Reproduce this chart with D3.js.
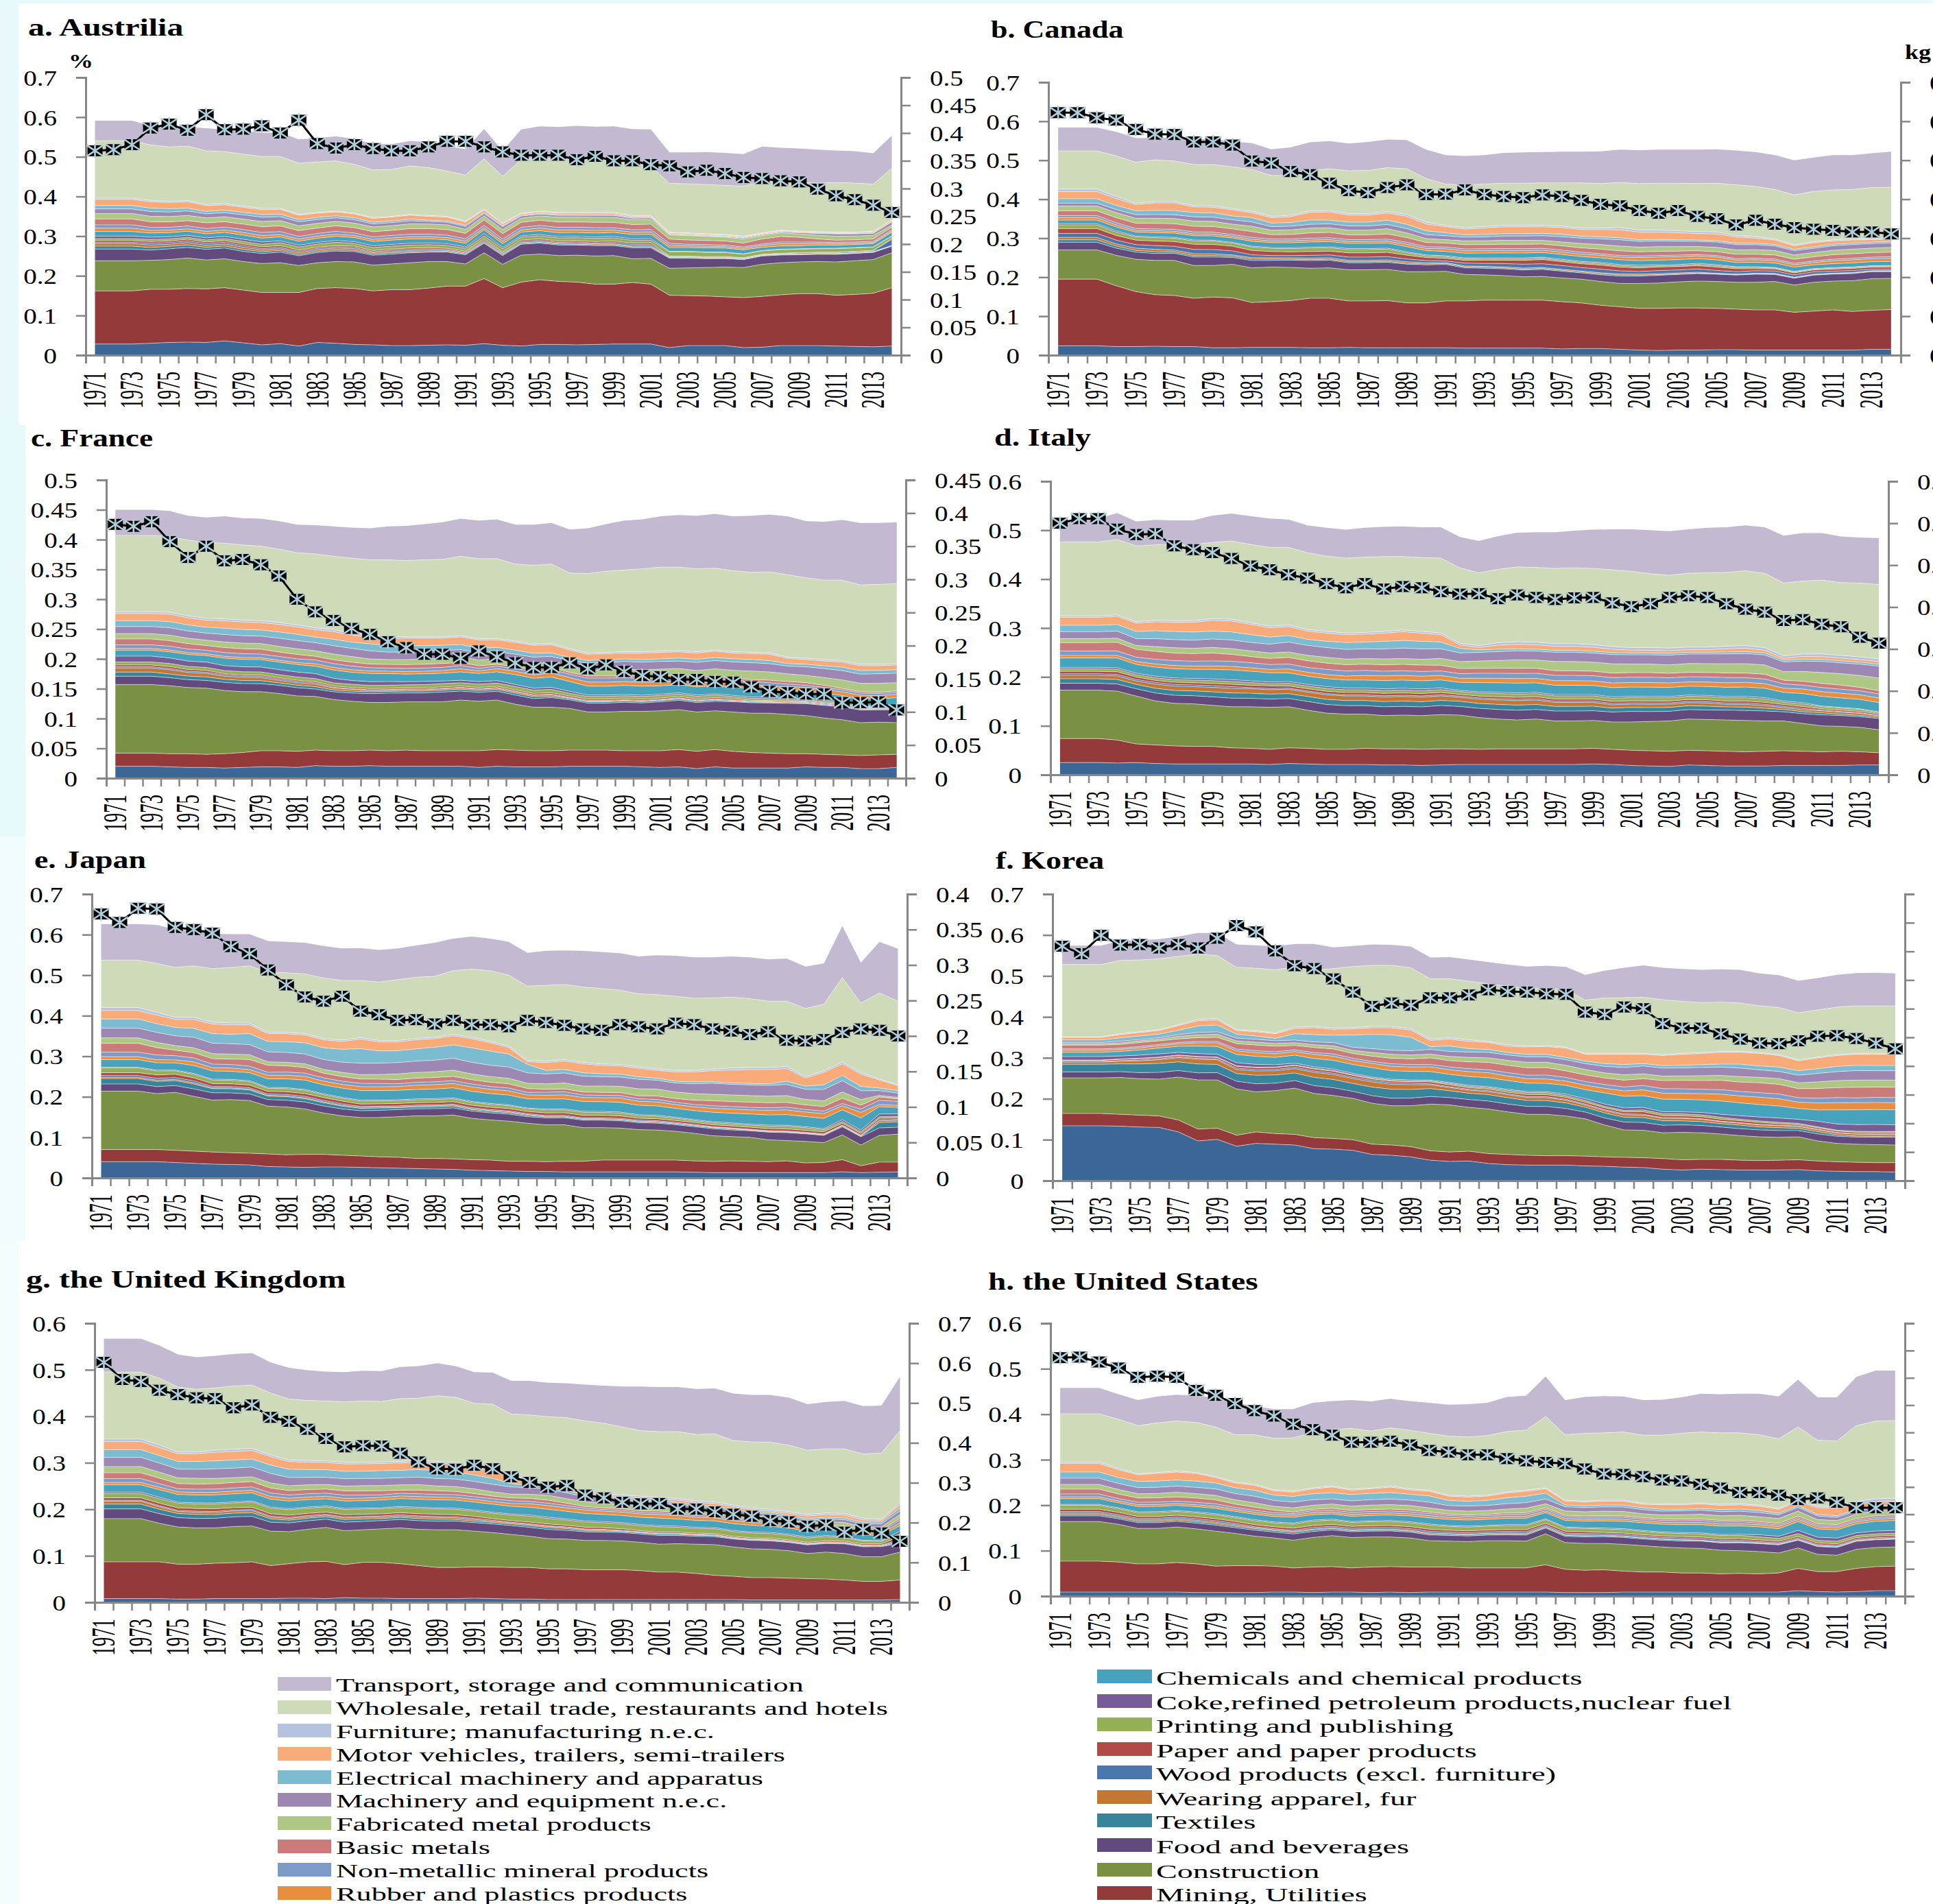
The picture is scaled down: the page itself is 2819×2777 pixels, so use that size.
<!DOCTYPE html>
<html><head><meta charset="utf-8"><script src="https://cdnjs.cloudflare.com/ajax/libs/d3/7.8.5/d3.min.js"></script>
<style>html,body{margin:0;padding:0;background:#fff;overflow:hidden}svg{display:block}text{font-family:"Liberation Serif",serif;fill:#000}</style></head><body>
<script>
const years=d3.range(1971,2015);
const layerNames=["Agriculture","Mining, Utilities","Construction","Food and beverages","Textiles","Wearing apparel, fur","Wood products (excl. furniture)","Paper and paper products","Printing and publishing","Coke,refined petroleum products,nuclear fuel","Chemicals and chemical products","Rubber and plastics products","Non-metallic mineral products","Basic metals","Fabricated metal products","Machinery and equipment n.e.c.","Electrical machinery and apparatus","Motor vehicles, trailers, semi-trailers","Furniture; manufacturing n.e.c.","Wholesale, retail trade, restaurants and hotels","Transport, storage and communication"];
const layerColors=["#3c6696","#953a3a","#7a9143","#624b7c","#38849b","#c47732","#4a76ad","#b04a48","#94b054","#775d97","#47a2bb","#e98d3e","#7c9bc7","#c97c7a","#afc785","#9c88b2","#7dbbd0","#f8ab78","#b5c3de","#cfdbb8","#c3b9d0"];
const legendLeft=[20,19,18,17,16,15,14,13,12,11];
const legendRight=[10,9,8,7,6,5,4,3,2,1];

const aAgri=[28,28,28,30,32,33,32,36,31,26,29,23,32,30,27,26,24,24,25,26,25,29,25,23,27,27,26,27,28,28,28,19,24,24,24,19,20,24,24,24,23,22,21,23];
const aMining=[162,162,162,166,166,168,167,170,164,158,158,158,168,170,168,162,165,165,169,174,174,193,170,184,190,186,184,179,179,183,179,151,150,149,147,145,148,152,155,155,151,153,156,170];
const aConstr=[238,238,238,239,241,245,240,243,236,231,233,226,233,236,235,227,230,233,236,236,230,258,229,252,255,251,252,250,251,243,244,219,220,221,222,221,229,233,235,236,235,238,241,258];
const aMfg=[396,396,396,390,388,390,380,382,376,370,370,355,360,363,358,347,350,355,352,350,338,368,333,358,363,360,360,360,360,352,352,310,308,306,304,300,308,315,313,311,310,310,312,341];
const aWholesale=[540,541,541,530,525,527,515,513,507,501,501,484,487,490,481,467,468,477,473,464,454,495,451,493,496,494,495,497,490,480,477,433,432,430,428,426,437,436,436,434,435,434,431,471];
const aTransport=[591,591,591,578,572,576,572,568,565,561,561,544,547,552,545,532,532,540,537,526,520,570,515,569,577,575,578,576,577,570,569,511,511,512,510,507,526,523,521,518,516,514,509,553];
const aLine=[368,370,379,409,416,405,433,406,407,413,400,423,381,373,379,372,368,368,375,385,385,375,366,360,360,360,352,358,350,350,343,341,330,333,327,320,318,314,312,299,287,280,270,257];
const aThin=[
[28,28,28,24,26,26,26,26,24,23,24,22,24,25,25,23,23,23,22,22,20,24,19,26,25,24,23,23,22,23,22,19,18,17,17,16,18,17,17,17,17,17,18,15],
[7,7,7,6,6,6,5,5,5,4,4,3,3,3,3,3,3,2,2,2,2,2,2,2,2,2,2,2,2,2,2,1,1,1,1,1,1,1,1,1,1,1,1,1],
[6,6,6,6,5,6,5,5,5,4,4,4,4,4,4,3,3,3,3,2,2,3,2,2,2,2,2,2,2,2,2,1,1,1,1,1,1,1,1,1,1,1,1,1],
[3,3,3,4,4,4,4,4,4,3,3,3,3,3,3,2,3,3,3,2,2,3,2,3,3,2,3,2,3,3,3,1,1,1,1,1,1,1,2,2,2,2,2,14],
[4,4,4,4,4,4,4,4,4,4,4,3,3,3,3,3,3,3,3,3,2,3,2,3,3,3,3,3,3,3,3,1,1,1,1,1,1,1,1,1,1,1,1,2],
[5,5,5,5,5,5,5,5,6,6,7,7,7,8,7,7,7,7,7,7,6,8,7,7,7,7,7,7,7,6,6,8,8,8,8,7,7,8,8,8,8,8,8,5],
[6,6,6,5,5,5,5,5,5,5,4,4,4,4,4,4,4,4,4,4,3,5,3,3,3,3,3,3,3,3,3,1,1,1,1,1,1,1,1,1,1,1,1,1],
[11,11,11,10,10,10,10,10,10,9,9,9,10,10,10,10,10,10,10,9,8,10,8,9,9,9,9,9,9,9,9,7,7,8,8,8,7,7,7,8,7,7,8,8],
[8,8,8,6,6,6,6,6,6,6,5,5,5,5,5,5,5,5,5,5,5,5,5,5,6,6,6,6,5,5,5,4,3,3,3,3,4,5,5,4,3,3,3,3],
[8,8,8,7,7,7,7,7,7,7,7,6,6,7,6,6,6,6,6,6,5,6,5,6,6,6,6,6,5,5,5,4,3,3,3,3,3,4,4,3,3,3,3,3],
[14,14,14,13,13,13,14,13,13,13,13,13,13,13,13,12,12,13,13,13,12,14,12,12,12,12,12,12,12,11,11,8,8,8,8,8,11,12,11,7,5,5,6,6],
[13,13,13,13,13,13,12,12,12,12,12,11,11,11,11,11,11,11,11,11,9,10,9,10,10,11,11,11,11,10,10,8,8,8,8,8,7,8,8,9,9,9,9,5],
[11,11,11,11,11,11,10,10,10,10,9,9,9,8,8,7,7,7,6,6,6,6,6,5,4,4,4,4,4,3,3,1,1,1,1,2,2,2,3,4,5,5,5,7],
[8,8,8,8,8,7,6,6,6,6,6,5,5,5,5,4,4,4,3,3,3,3,2,2,2,2,2,2,2,2,1,1,1,1,1,1,1,1,1,1,1,1,1,1],
[15,15,15,15,15,16,14,13,12,11,11,10,10,9,9,9,9,9,9,9,7,6,4,3,3,3,3,3,3,2,2,2,2,2,2,2,2,2,2,2,2,2,3,3],
[3,3,3,3,3,3,3,3,3,3,2,2,2,2,2,2,2,2,2,2,2,2,2,2,2,2,2,2,2,2,2,1,1,1,1,1,1,1,1,1,1,1,1,1]];

const bAgri=[24,24,24,22,22,23,22,22,19,19,20,20,20,19,19,20,19,19,19,19,19,18,18,18,18,18,16,17,17,15,13,12,13,13,14,14,13,13,13,13,13,13,15,15];
const bMining=[195,195,195,178,163,155,153,146,149,147,135,137,140,146,146,139,139,140,134,134,139,139,141,141,141,141,137,134,128,124,120,120,121,121,120,118,116,116,110,113,116,112,115,117];
const bConstr=[270,270,270,256,246,243,243,230,230,233,224,226,225,223,224,219,219,220,214,214,215,207,206,204,201,202,198,195,189,184,184,185,188,190,189,187,187,189,180,187,190,191,196,197];
const bMfg=[426,426,426,407,390,394,394,384,383,376,369,356,359,370,371,363,363,368,361,341,333,327,330,333,333,333,331,326,326,327,321,321,319,317,316,307,304,298,283,291,296,298,299,300];
const bWholesale=[524,524,524,511,495,501,498,489,489,483,476,461,461,474,478,473,474,481,478,453,439,437,439,441,441,442,442,442,440,443,440,441,441,440,441,437,433,425,411,420,424,425,430,431];
const bTransport=[584,584,584,573,557,557,559,554,554,548,544,528,533,546,549,543,547,553,552,527,513,511,513,519,520,521,522,522,523,527,526,527,527,527,528,525,521,513,500,507,513,513,518,522];
const bLine=[622,622,609,603,579,567,566,547,547,539,498,493,471,463,441,422,417,430,437,412,413,424,412,407,404,411,407,397,387,383,371,364,371,356,350,334,346,336,327,323,320,316,316,311];
const bThin=[
[19,19,19,17,16,15,15,18,18,16,15,15,16,16,16,15,15,15,16,16,16,14,14,14,14,15,14,13,13,14,14,15,15,16,15,15,16,14,14,15,14,14,14,13],
[6,6,6,5,4,4,3,3,3,3,3,3,2,2,2,2,2,2,2,2,2,2,2,2,2,2,2,2,2,2,2,1,1,1,1,1,1,1,1,1,1,1,1,1],
[6,6,6,5,5,5,4,4,4,3,3,3,3,3,3,3,3,3,3,3,2,2,2,2,2,2,2,2,2,2,2,2,2,2,1,1,1,1,1,1,1,1,1,1],
[10,10,10,9,8,8,8,9,9,9,6,5,5,6,6,7,7,7,6,5,4,6,6,7,8,8,8,7,7,6,5,6,6,7,6,5,5,5,5,5,4,4,3,3],
[12,12,12,11,10,10,10,11,11,11,9,9,8,8,8,9,9,9,8,7,6,6,7,7,8,9,8,8,8,7,7,7,7,7,7,6,4,4,4,4,4,4,4,4],
[9,9,9,8,7,7,7,7,7,7,7,7,7,7,7,7,7,7,5,4,4,3,3,3,3,3,3,3,3,3,3,2,2,3,3,3,3,2,2,2,2,2,2,2],
[3,3,3,3,2,2,2,2,2,2,2,2,2,2,2,2,2,2,2,2,2,2,2,2,2,2,2,2,2,2,2,2,2,2,2,1,1,1,1,1,1,1,1,1],
[9,9,9,9,9,9,9,9,9,10,10,11,11,11,11,11,11,11,11,10,10,10,10,10,10,10,10,10,9,9,9,9,10,10,10,9,9,9,9,8,8,8,8,8],
[6,6,6,5,4,4,4,4,4,4,4,4,4,4,4,4,4,4,5,5,6,5,5,5,5,5,5,5,5,5,6,6,6,6,6,5,5,5,5,5,6,6,6,6],
[5,5,5,5,4,4,4,4,4,4,4,4,4,4,4,4,4,4,4,4,4,4,4,4,4,4,4,4,3,3,3,3,3,3,3,3,3,3,3,3,3,3,3,3],
[12,12,12,12,12,12,12,12,12,13,12,10,10,11,11,10,10,11,10,10,9,9,9,9,9,9,9,9,9,9,8,8,8,8,8,9,8,8,8,9,9,9,9,9],
[12,12,12,12,11,11,11,11,11,11,11,10,10,10,10,10,10,11,10,9,8,8,8,8,8,8,8,9,9,9,9,9,9,9,9,9,9,9,9,9,9,9,9,9],
[7,7,7,7,8,8,8,9,9,10,9,8,8,8,8,9,9,9,9,9,9,8,8,9,9,10,11,11,11,12,11,11,11,11,11,11,10,9,9,9,9,9,9,9],
[11,11,11,10,9,9,9,9,9,9,9,8,8,9,8,8,8,9,9,9,7,5,5,5,5,5,5,4,4,4,3,3,3,3,3,3,3,3,3,3,3,3,3,3],
[18,18,18,16,14,16,16,12,12,14,10,12,13,16,17,15,15,15,17,16,14,12,14,14,14,14,14,14,14,15,15,14,14,14,14,13,10,9,7,9,7,6,5,4],
[6,6,6,5,3,3,3,3,3,3,3,3,3,3,3,3,3,3,4,4,3,3,3,3,3,3,3,3,3,4,4,4,4,4,4,3,3,2,2,2,2,2,2,2]];

const cAgri=[20,20,20,19,18,18,17,18,19,19,18,21,20,20,21,20,20,20,20,20,18,20,19,19,19,20,20,20,20,19,18,19,16,19,17,17,17,17,19,18,18,16,16,18];
const cMining=[42,42,42,41,41,40,41,43,46,46,45,47,46,46,47,46,47,46,46,46,46,48,47,46,46,47,47,47,46,46,46,48,45,48,45,43,42,41,41,40,39,38,39,40];
const cConstr=[157,157,157,155,152,151,147,145,145,142,138,137,132,129,127,127,128,128,128,131,129,131,124,119,119,117,111,111,112,112,113,115,111,113,111,109,109,107,105,101,98,93,94,93];
const cMfg=[279,279,279,278,272,268,267,265,264,261,257,252,249,243,240,237,237,237,237,239,234,234,230,225,226,217,210,211,212,212,213,214,212,215,212,211,210,203,201,199,197,191,191,192];
const cWholesale=[407,407,407,405,399,395,394,391,389,384,378,376,372,369,366,366,365,366,367,372,368,368,359,357,359,344,343,347,349,351,354,354,351,352,348,345,346,341,336,332,332,324,325,326];
const cTransport=[450,450,450,448,440,437,439,436,435,431,425,424,422,420,419,422,423,426,429,435,432,434,425,425,428,417,419,426,432,434,439,441,440,443,439,440,442,439,431,430,433,428,428,429];
const cLine=[383,380,387,357,333,350,328,330,322,305,270,251,238,226,217,206,197,187,187,181,192,183,174,167,167,174,165,171,161,155,153,149,149,146,145,138,131,129,127,127,114,114,115,103];
const cThin=[
[14,14,14,13,13,13,13,13,13,13,13,12,12,13,14,15,14,14,15,14,14,14,14,13,14,13,13,13,14,13,14,15,15,15,16,16,16,17,18,18,18,18,18,19],
[7,7,7,6,6,6,5,5,5,4,4,4,3,3,3,3,3,3,3,3,3,3,3,3,2,2,2,2,2,2,2,2,2,2,1,1,1,1,1,1,1,1,1,1],
[7,7,7,7,6,6,5,5,5,4,4,4,3,3,2,2,2,2,2,2,2,2,2,2,2,1,1,1,1,1,1,1,1,1,1,1,1,1,1,1,1,1,1,1],
[2,2,2,2,2,2,2,2,2,2,2,2,1,1,1,1,1,1,1,1,1,1,1,1,1,1,1,1,1,1,1,1,1,1,1,1,1,1,1,1,1,1,1,1],
[3,3,3,3,3,3,2,2,2,2,2,2,2,2,2,2,2,2,2,2,2,2,2,2,2,2,2,2,2,2,2,2,2,2,2,1,1,1,1,1,1,1,1,1],
[5,5,5,5,5,5,5,5,5,5,5,5,5,5,5,5,5,5,5,5,5,5,5,5,5,4,4,4,4,4,4,4,4,4,3,3,3,2,2,2,1,1,1,1],
[10,10,10,9,9,9,8,8,8,8,8,8,7,6,6,6,5,5,4,4,4,4,3,3,3,3,2,2,2,2,2,2,2,2,2,2,2,2,2,2,1,1,1,1],
[10,10,10,10,11,11,12,12,12,12,12,12,13,13,13,13,12,12,12,13,13,14,15,15,15,15,13,13,14,14,13,13,13,13,13,13,12,12,11,10,10,10,10,12],
[3,3,3,3,3,3,3,3,3,3,3,4,4,4,4,4,4,4,4,5,4,5,5,5,6,6,6,6,6,6,6,6,6,6,6,6,6,6,6,5,5,5,5,5],
[6,6,6,6,6,6,6,6,6,6,6,6,6,6,5,5,5,5,5,5,4,4,4,5,5,5,6,6,6,6,6,6,6,6,5,5,5,4,3,3,3,3,3,3],
[10,10,10,9,9,8,8,8,8,7,7,6,6,6,6,6,6,6,6,5,4,3,3,3,3,3,3,3,3,3,3,3,3,3,3,3,4,4,4,3,2,2,2,2],
[9,9,9,9,9,9,9,9,9,9,9,9,9,9,8,8,8,8,9,9,9,9,8,8,7,8,9,9,10,10,11,11,11,12,12,13,13,12,11,11,12,12,13,12],
[12,12,12,12,12,12,12,12,12,13,13,13,13,13,13,12,12,12,11,11,12,11,11,11,9,10,10,11,12,12,12,12,13,13,13,13,13,12,13,13,13,13,14,14],
[10,10,10,10,10,10,10,10,10,10,10,9,10,10,11,11,10,9,8,8,7,7,6,6,5,5,4,4,4,4,4,5,5,5,5,5,5,4,4,4,5,5,5,5],
[12,12,12,12,12,12,12,12,12,12,12,12,12,11,11,11,12,12,11,12,13,12,12,12,12,11,9,9,9,10,10,10,10,10,9,9,10,8,7,7,7,7,7,7],
[3,3,3,3,3,3,3,3,3,3,3,3,3,3,3,3,2,2,2,2,2,2,2,2,2,2,2,2,2,2,2,2,2,2,2,2,2,2,2,2,2,2,2,2]];

const dAgri=[25,25,25,24,25,23,22,22,22,22,22,21,23,22,21,21,21,20,20,19,20,21,21,21,21,21,21,21,22,21,19,18,17,20,19,18,18,18,19,19,19,19,20,20];
const dMining=[74,74,74,71,63,61,59,58,58,55,54,52,55,54,52,52,54,53,53,52,53,53,52,53,53,53,53,53,54,52,50,49,48,50,49,48,47,48,49,48,47,48,47,45];
const dConstr=[173,173,173,171,161,151,146,145,142,139,139,138,139,132,126,124,124,121,122,121,123,122,117,114,112,114,110,110,111,108,108,109,110,114,113,112,111,110,110,105,100,99,97,92];
const dMfg=[325,325,325,327,313,316,315,315,319,318,311,304,306,297,293,290,291,293,296,293,290,269,264,270,272,271,268,268,266,262,260,260,259,261,261,263,264,260,243,247,247,244,241,237];
const dWholesale=[476,476,476,481,468,470,471,471,475,478,471,465,465,454,447,443,445,446,446,444,443,423,413,420,425,424,422,423,422,419,416,411,408,412,413,414,417,412,392,396,398,393,392,389];
const dTransport=[513,521,524,535,518,521,520,520,530,534,529,524,522,510,505,501,505,507,508,506,506,486,478,488,495,496,496,499,501,502,502,500,498,502,505,506,510,506,489,494,494,487,485,484];
const dLine=[600,611,611,586,573,575,546,537,530,516,498,489,477,469,456,446,456,443,449,446,437,431,432,420,429,423,418,422,423,410,401,408,423,427,423,408,395,388,368,370,359,353,328,314];
const dThin=[
[14,14,14,14,15,15,15,15,15,15,15,15,15,16,15,15,15,15,15,15,16,15,15,15,15,15,15,15,15,15,16,15,15,15,15,15,15,15,15,15,16,16,16,17],
[9,9,9,9,9,9,9,9,9,9,9,9,9,9,9,9,9,9,9,9,9,9,8,8,8,8,7,7,7,6,6,6,6,6,6,5,5,4,4,3,3,2,2,2],
[7,7,7,7,7,8,8,8,8,8,8,8,8,8,8,8,8,8,8,8,8,7,7,7,7,7,6,6,6,5,5,5,5,5,5,4,4,4,3,3,3,3,3,2],
[3,3,3,3,3,3,3,3,3,3,2,2,2,2,2,2,2,2,2,2,2,2,2,2,2,2,2,2,2,2,2,2,2,2,2,2,2,2,2,2,1,1,1,1],
[5,5,5,5,5,4,4,4,4,4,4,5,4,4,4,4,4,4,4,4,4,3,3,3,3,3,3,3,3,3,3,3,3,3,3,3,3,3,3,3,2,2,2,2],
[5,5,5,5,5,5,5,5,5,5,5,4,5,5,5,5,5,5,5,5,5,5,5,5,5,5,5,5,5,5,5,5,5,5,5,5,5,5,4,4,3,3,3,2],
[3,3,3,3,3,3,3,3,3,3,3,3,3,3,3,3,3,3,3,3,3,2,2,2,2,2,2,2,2,2,2,2,2,2,2,2,2,2,2,2,1,1,1,1],
[19,19,19,19,18,17,17,17,17,17,17,17,16,15,14,14,14,14,14,14,14,14,15,15,15,15,14,14,14,14,14,14,14,14,14,14,14,14,14,14,14,14,14,14],
[5,5,5,5,6,6,6,6,6,6,6,6,7,7,7,7,8,8,8,8,8,7,7,7,7,7,7,7,7,7,7,7,7,7,7,7,7,7,7,7,7,7,7,7],
[9,9,9,9,9,9,9,9,9,9,9,9,9,9,9,9,9,8,8,8,8,8,8,8,8,8,8,8,8,8,8,8,8,8,8,8,7,7,7,6,6,6,6,6],
[17,17,17,17,16,15,14,14,14,12,11,11,12,12,11,11,11,11,11,11,10,9,8,8,8,8,7,7,7,7,7,7,7,7,7,7,7,7,6,6,6,6,5,5],
[8,8,8,8,8,9,10,10,10,10,10,10,10,10,10,10,10,10,10,10,12,12,12,12,13,13,14,14,14,14,13,13,13,14,14,14,14,14,14,15,16,17,18,19],
[14,14,14,14,14,15,15,15,15,15,15,16,18,18,17,17,17,17,18,18,17,15,14,14,14,14,14,14,14,14,14,14,15,15,15,15,15,15,16,16,16,16,17,18],
[13,13,13,13,15,15,15,15,14,14,14,13,12,11,11,12,12,13,13,13,12,8,4,4,3,3,3,3,3,3,3,3,3,3,3,3,3,3,3,3,3,3,3,3],
[16,16,16,16,17,17,17,18,19,19,18,17,16,15,14,14,14,14,15,14,13,6,4,6,7,7,6,6,6,5,4,4,4,4,4,5,5,4,3,4,4,4,4,4],
[3,3,3,3,3,3,3,3,3,3,3,3,3,3,3,3,3,3,3,3,3,3,3,4,4,4,4,4,4,4,4,4,4,4,4,4,4,4,4,4,4,4,4,4]];

const eAgri=[40,40,40,40,38,36,34,33,32,28,27,26,27,27,26,25,24,23,22,21,19,18,17,16,16,15,15,15,15,15,15,15,14,13,13,13,13,13,13,13,15,13,14,15];
const eMining=[70,70,70,70,68,66,64,62,61,59,57,58,58,56,54,52,51,48,48,47,45,44,41,41,40,41,41,44,44,44,44,44,42,41,42,41,40,42,37,38,45,30,39,39];
const eConstr=[214,214,214,208,211,201,192,193,191,177,175,170,160,153,149,149,151,153,153,155,147,143,140,135,131,131,124,124,123,119,118,115,110,104,102,100,94,92,90,87,106,81,105,108];
const eMfg=[420,420,420,408,396,396,384,382,382,359,359,356,344,340,346,339,339,344,347,354,347,337,325,290,288,292,285,281,280,274,269,265,265,268,271,272,272,275,250,264,286,260,244,230];
const eWholesale=[537,537,537,529,519,523,516,519,523,507,506,503,493,487,487,483,489,495,497,511,515,511,500,473,475,477,471,467,463,454,452,448,443,444,446,442,436,436,418,428,494,431,456,436];
const eTransport=[626,626,626,624,613,610,602,601,601,584,582,580,572,566,567,562,566,573,580,590,595,590,582,555,560,561,560,557,554,546,549,548,544,544,546,544,539,541,521,529,621,531,582,565];
const eLine=[372,360,380,379,353,350,345,326,316,293,272,255,249,256,235,230,222,223,217,222,216,216,213,222,219,215,210,208,216,213,210,218,216,210,207,202,206,194,193,195,205,210,208,200];
const eThin=[
[17,17,17,16,16,17,16,15,15,15,15,15,15,15,14,15,15,15,15,15,15,15,15,15,14,14,15,15,15,14,14,14,14,14,13,13,15,15,15,14,18,15,14,14],
[13,13,13,12,12,11,9,9,9,8,8,7,7,6,5,5,4,4,4,4,3,3,3,3,2,2,2,2,2,2,2,2,2,2,2,1,1,1,1,1,2,1,10,11],
[3,3,3,3,3,3,2,2,2,2,2,2,2,2,2,2,2,2,2,2,2,2,2,2,1,1,1,1,1,1,1,1,1,1,1,1,1,1,1,1,1,1,3,3],
[4,4,4,4,4,4,3,3,3,3,3,3,3,3,2,2,2,2,2,2,2,2,2,2,2,2,2,2,2,2,2,2,2,1,1,1,1,1,1,1,1,1,2,2],
[7,7,7,8,8,7,6,6,6,6,6,6,6,6,5,5,5,5,5,5,5,5,5,5,5,5,5,5,5,4,4,4,4,4,4,4,4,4,4,4,4,3,3,3],
[11,11,11,9,8,8,8,8,8,7,7,7,6,6,6,6,6,6,6,6,6,6,6,6,6,6,6,6,6,5,5,5,4,4,4,4,5,5,5,4,4,3,3,3],
[2,2,2,2,2,2,2,2,2,2,2,2,2,2,2,2,2,2,2,2,2,2,2,2,2,2,2,2,2,2,2,2,2,2,2,2,2,2,2,2,4,3,5,5],
[18,18,18,17,17,18,18,18,18,20,20,20,19,20,20,20,20,20,20,21,21,21,21,21,20,20,20,20,20,19,19,19,19,19,19,20,20,20,20,20,22,22,14,13],
[7,7,7,7,7,8,7,7,7,8,8,8,8,8,8,8,8,9,9,9,9,9,9,9,8,8,8,8,9,8,8,8,8,8,8,8,9,9,9,9,9,10,4,4],
[11,11,11,11,10,9,8,8,8,7,7,7,7,7,7,7,6,6,6,6,6,6,6,6,6,6,5,5,5,5,5,5,5,5,5,5,5,5,5,5,5,6,8,8],
[21,21,21,17,13,12,12,12,15,16,14,12,10,10,9,9,9,9,9,9,9,9,9,9,6,6,6,6,6,6,7,8,9,10,10,10,10,9,9,9,12,7,6,5],
[13,13,13,12,11,11,11,11,11,8,8,8,8,9,9,10,12,12,12,13,12,12,12,12,11,12,12,13,13,14,14,14,14,13,13,13,13,13,11,11,14,10,3,3],
[23,23,23,23,23,24,23,23,23,23,22,21,21,22,24,24,24,24,24,25,24,24,24,24,20,20,20,19,19,19,18,19,21,22,21,21,21,21,20,22,25,16,9,9],
[22,22,22,20,20,20,21,21,25,24,24,24,25,28,30,26,25,26,27,28,30,30,28,20,7,7,7,6,6,5,4,4,4,3,3,3,3,6,6,9,12,8,5,5],
[20,20,20,20,19,20,21,21,20,18,18,17,17,17,20,19,19,19,18,19,19,18,14,6,16,17,18,17,17,17,16,20,21,22,25,27,28,24,16,24,26,22,15,10],
[7,7,7,6,5,5,4,4,4,3,3,3,3,3,3,3,3,3,3,3,3,3,3,3,3,3,3,3,3,3,3,3,3,3,4,4,4,4,3,3,4,3,2,2]];

const fAgri=[134,134,134,133,131,130,119,97,101,84,91,89,87,78,77,74,64,62,58,50,47,48,42,39,38,38,38,36,35,33,32,28,26,28,27,26,26,26,27,24,23,22,22,21];
const fMining=[164,164,164,162,160,158,148,126,128,111,119,115,113,105,103,100,89,87,83,73,70,72,66,64,62,61,61,60,58,57,56,54,51,52,52,50,49,50,51,48,46,45,44,44];
const fConstr=[251,251,251,252,249,248,253,246,246,224,217,220,226,213,208,201,189,183,183,187,185,179,175,168,162,162,158,151,136,124,123,117,118,117,114,110,107,106,107,97,91,89,88,87];
const fMfg=[351,351,351,359,364,369,381,394,396,369,366,361,375,377,373,374,377,377,371,346,349,344,340,332,329,330,326,311,311,311,311,308,311,313,316,316,313,308,295,302,308,311,311,311];
const fWholesale=[528,528,528,538,539,542,548,553,550,521,519,515,522,515,518,523,526,526,520,493,493,487,481,475,470,470,467,441,446,447,448,442,438,435,436,434,427,423,410,417,424,427,427,427];
const fTransport=[574,574,574,586,587,590,596,605,605,577,575,572,578,578,570,573,577,576,572,545,546,540,534,528,523,525,522,503,513,520,526,520,517,515,516,515,506,502,488,495,503,507,508,506];
const fLine=[409,396,428,411,412,406,412,406,423,445,434,401,375,370,352,329,304,310,306,319,319,324,333,330,329,326,325,294,290,303,300,274,266,266,256,247,240,239,244,252,253,248,240,230];
const fThin=[
[14,14,14,14,14,15,15,15,16,17,17,16,17,17,17,16,16,15,16,16,16,16,16,16,16,16,16,15,15,16,16,15,15,15,14,14,14,14,14,15,15,15,16,17],
[18,18,18,19,20,20,20,19,18,17,18,18,17,18,18,18,18,18,18,17,15,13,13,13,12,12,12,11,11,10,10,9,8,8,7,7,6,6,5,5,3,2,2,2],
[5,5,5,6,7,8,10,10,10,9,9,9,10,11,11,11,11,10,10,8,7,6,6,6,6,6,6,5,5,5,5,5,5,5,4,4,4,4,4,4,4,4,4,4],
[2,2,2,2,2,2,2,2,2,3,3,3,3,3,3,3,3,3,3,2,2,2,2,2,2,2,2,2,2,2,2,1,1,1,1,1,1,1,1,1,1,1,1,1],
[2,2,2,3,3,3,3,3,3,4,4,4,4,4,4,4,3,3,3,4,4,3,3,3,4,4,4,4,4,4,5,4,4,4,4,4,4,3,3,3,3,3,3,3],
[1,1,1,1,1,1,1,1,1,1,1,1,1,2,2,2,2,2,2,2,3,3,3,4,4,4,4,4,3,3,4,4,4,4,4,3,3,3,3,2,2,2,2,2],
[8,8,8,7,7,7,6,6,6,7,6,5,4,3,3,3,2,2,2,2,2,2,2,2,2,2,3,4,5,5,5,4,4,5,6,7,8,9,9,12,13,14,15,14],
[10,10,10,11,12,13,14,16,17,18,17,16,18,18,19,20,20,17,18,18,18,18,18,18,17,17,19,20,24,24,24,25,25,26,27,26,25,25,24,24,30,31,32,32],
[5,5,5,5,5,5,6,7,8,8,8,8,8,9,9,9,9,9,9,10,10,10,10,9,9,9,9,10,10,11,12,12,12,13,14,14,15,15,14,15,15,15,15,15],
[3,3,3,3,3,3,3,3,3,4,4,4,4,4,5,5,4,5,5,5,6,6,6,7,7,8,8,8,8,8,9,9,9,9,9,9,9,10,10,10,11,10,11,11],
[9,9,9,9,9,8,8,8,9,12,12,12,10,11,11,11,11,11,12,14,14,14,15,15,15,15,14,15,14,14,14,16,17,18,19,19,20,20,20,21,21,22,22,22],
[3,3,3,4,4,4,6,6,7,6,6,6,6,6,7,7,8,8,8,8,9,9,9,10,11,11,12,12,11,11,10,9,9,10,10,11,11,12,13,14,15,15,15,15],
[3,3,3,4,3,3,4,5,5,6,6,6,6,6,7,7,8,8,9,10,11,11,11,11,11,11,12,13,14,15,16,16,16,17,17,17,15,15,17,18,19,20,20,20],
[6,6,6,8,8,8,10,14,15,9,7,5,14,16,16,28,30,31,28,6,12,7,6,5,5,5,5,6,6,6,5,5,5,6,6,8,8,9,10,10,11,11,11,11],
[6,6,6,8,8,8,11,11,11,8,9,10,12,15,13,14,14,14,15,13,15,15,14,13,15,16,20,15,20,21,19,20,22,23,24,24,25,24,22,23,23,23,24,24],
[1,1,1,2,2,2,2,3,3,2,2,2,3,3,3,3,3,3,3,3,3,3,2,3,2,2,2,2,2,2,2,2,2,2,2,2,2,2,2,2,2,2,2,2]];

const gAgri=[8,8,8,8,7,7,8,8,8,8,9,9,8,10,9,9,8,8,8,8,9,8,7,7,6,6,6,6,6,6,6,6,6,6,6,5,5,5,5,5,5,5,5,6];
const gMining=[87,87,87,87,82,82,84,85,87,79,83,87,88,81,86,86,83,79,75,75,76,76,75,75,72,72,70,70,70,68,65,65,62,58,56,53,53,52,51,50,48,45,45,48];
const gConstr=[180,180,180,170,162,160,160,163,164,153,152,157,161,154,156,158,160,157,156,156,153,150,146,142,137,136,133,133,132,129,125,126,125,124,119,115,114,111,105,108,105,98,98,108];
const gMfg=[351,351,351,338,323,323,327,329,331,317,306,305,304,301,301,302,303,305,303,301,293,286,273,263,259,249,238,233,231,228,226,223,218,216,209,203,200,195,189,192,191,181,179,214];
const gWholesale=[495,495,495,482,463,458,461,465,467,450,437,434,433,431,433,432,438,439,444,441,428,426,405,403,399,397,390,385,377,369,367,367,361,362,348,345,344,338,327,330,330,319,321,369];
const gTransport=[567,567,567,552,533,527,530,534,536,516,504,499,496,495,498,497,506,508,514,508,495,494,476,476,472,471,468,466,464,464,463,463,459,460,449,446,446,440,426,431,433,422,423,485];
const gLine=[602,559,554,532,521,513,511,488,495,464,454,434,411,390,393,392,374,352,335,334,344,335,315,301,289,293,269,262,251,247,248,234,234,227,221,216,205,202,191,194,176,183,174,153];
const gThin=[
[20,20,20,19,18,18,18,18,18,16,16,16,16,16,16,16,16,16,16,16,16,16,16,15,15,15,15,15,15,15,15,15,15,15,15,16,16,16,16,16,17,17,17,14],
[10,10,10,9,8,8,7,7,7,6,5,5,5,5,5,4,4,4,4,3,3,3,3,3,3,3,2,2,2,2,2,2,2,2,1,1,1,1,1,1,1,1,1,2],
[6,6,6,5,4,4,4,4,4,3,3,3,3,3,3,3,3,3,3,3,3,2,2,2,2,2,2,2,1,1,1,1,1,1,1,1,1,1,1,1,1,1,1,2],
[2,2,2,2,2,2,2,2,2,2,2,2,2,2,2,2,2,2,2,2,2,2,1,1,1,1,1,1,1,1,1,1,1,1,1,1,1,1,1,1,1,1,1,2],
[5,5,5,5,5,5,5,4,4,4,4,4,4,4,4,4,4,4,4,4,4,3,3,3,3,3,3,3,3,2,2,2,2,2,2,2,2,2,2,2,2,2,2,5],
[9,9,9,9,9,9,9,9,10,10,10,10,10,10,10,10,10,10,10,10,10,10,10,10,9,9,9,9,9,9,9,9,9,9,9,9,9,9,8,8,6,5,4,5],
[3,3,3,3,2,2,2,2,2,2,2,2,2,2,2,2,2,2,2,2,2,2,2,2,2,2,2,2,2,2,2,2,2,2,2,2,2,2,2,2,2,1,1,4],
[15,15,15,15,15,15,15,15,15,14,14,14,14,14,14,15,15,15,15,15,15,15,14,13,13,13,13,13,13,13,13,13,13,13,13,13,12,12,11,11,10,9,9,9],
[5,5,5,5,5,5,5,5,5,5,5,5,5,5,5,5,5,5,5,5,5,5,5,6,6,6,6,6,6,6,6,6,6,6,6,5,5,5,4,4,4,4,4,4],
[8,8,8,7,6,6,6,6,6,6,6,6,6,6,6,5,5,5,5,5,5,5,5,4,4,4,3,3,3,3,3,3,3,3,3,3,3,3,3,3,3,3,3,5],
[12,12,12,11,10,10,10,10,10,9,8,8,8,8,8,8,6,7,7,6,6,5,5,5,5,4,3,3,3,3,3,3,3,3,3,3,3,3,2,2,2,2,2,3],
[13,13,13,12,11,11,10,9,9,9,9,9,9,9,10,10,10,10,9,9,9,8,7,7,8,8,8,8,8,8,8,8,8,7,7,7,7,6,6,6,6,5,5,6],
[19,19,19,18,17,17,18,18,18,17,15,14,14,14,14,14,14,14,14,14,14,14,13,11,10,10,9,8,8,8,7,7,6,6,6,5,5,5,5,5,5,5,5,6],
[16,16,16,15,15,15,15,15,15,15,15,15,15,14,14,15,14,14,15,14,12,11,6,4,4,4,3,3,3,3,3,3,3,3,3,3,3,3,3,3,3,3,3,5],
[17,17,17,16,15,15,16,16,16,15,14,14,14,14,14,14,14,14,14,14,14,14,12,6,5,4,3,3,3,4,3,4,5,5,4,4,3,4,5,5,5,4,3,5],
[5,5,5,5,3,3,4,4,4,3,3,3,3,3,3,3,3,3,3,3,3,3,3,3,3,3,3,3,3,3,3,3,3,3,3,3,3,3,3,3,3,3,2,3]];

const hAgri=[9,9,9,9,9,9,9,8,8,8,8,9,9,8,9,9,8,9,8,9,9,9,9,9,9,9,8,8,8,9,9,9,9,9,9,9,9,9,12,10,9,10,12,12];
const hMining=[77,77,77,75,71,71,74,71,66,67,67,66,62,64,65,62,64,65,64,64,64,62,62,62,62,69,59,57,58,55,53,53,51,51,49,50,49,51,61,54,54,61,65,66];
const hConstr=[164,164,164,158,149,149,152,148,143,138,132,128,123,129,133,129,130,130,128,122,121,120,122,122,121,137,118,116,116,114,111,108,106,105,101,100,98,95,106,92,90,103,107,108];
const hMfg=[295,295,295,281,269,272,275,272,263,251,246,234,231,238,242,235,238,242,236,233,222,220,222,229,233,238,211,209,211,211,204,203,203,205,202,203,200,193,211,198,196,208,214,215];
const hWholesale=[401,401,401,389,375,381,385,382,372,355,355,347,348,359,366,369,363,370,365,358,352,350,353,362,365,395,355,358,359,361,354,354,358,361,359,359,355,346,372,343,341,375,385,386];
const hTransport=[458,458,458,444,431,439,443,441,436,425,418,411,411,425,429,431,428,434,429,425,421,422,425,438,441,483,431,438,440,439,431,432,437,445,444,445,445,439,476,437,437,482,496,496];
const hLine=[437,438,429,418,401,403,401,377,368,353,340,330,315,305,295,282,282,284,277,267,264,259,259,252,248,245,243,233,224,223,219,213,211,205,198,190,190,185,177,180,172,162,162,162];
const hThin=[
[12,12,12,12,12,12,12,12,12,12,12,12,12,12,12,12,12,12,12,11,12,12,12,12,12,13,13,14,14,14,14,14,14,14,14,15,15,15,14,15,15,15,14,14],
[3,3,3,3,3,3,3,3,3,3,3,3,3,3,3,2,2,2,2,2,2,2,2,2,2,2,2,2,2,2,2,2,2,1,1,1,1,1,1,1,1,1,1,1],
[3,3,3,3,3,3,3,3,3,3,2,2,2,2,2,2,2,2,2,2,2,2,2,2,2,2,2,2,1,1,1,1,1,1,1,1,1,1,1,1,1,1,1,1],
[3,3,3,3,3,3,3,3,3,3,2,2,2,3,3,3,3,3,3,3,3,3,3,3,3,3,3,3,3,3,3,3,3,3,3,3,2,2,2,2,2,2,2,2],
[5,5,5,5,4,4,4,4,4,4,4,4,4,4,4,4,4,4,4,4,4,4,4,4,4,4,4,4,3,3,3,3,3,3,3,3,3,3,3,3,3,3,3,3],
[8,8,8,8,8,8,8,8,8,8,8,8,8,9,9,8,8,8,8,8,8,8,8,8,8,8,7,7,7,7,7,6,6,6,6,6,6,5,5,5,5,4,4,4],
[2,2,2,2,2,2,2,2,2,2,2,2,2,2,2,2,2,2,2,2,2,2,2,2,2,2,2,2,2,2,2,2,2,2,2,2,4,4,6,6,6,5,5,5],
[12,12,12,11,11,11,11,11,11,11,11,11,11,11,11,11,11,11,12,12,13,13,13,13,13,14,14,14,15,15,16,16,16,16,16,16,15,14,16,16,16,17,18,18],
[4,4,4,4,4,4,4,4,4,4,4,4,4,4,4,4,4,4,4,4,4,4,4,4,4,4,4,4,4,4,4,4,4,4,4,4,4,4,4,4,4,4,4,4],
[6,6,6,5,5,5,5,5,5,4,4,4,3,4,4,4,4,4,4,4,4,4,4,4,4,4,4,4,4,4,4,4,4,4,4,4,3,3,3,3,3,3,3,3],
[10,10,10,10,9,9,9,9,8,7,6,5,3,3,4,4,4,4,4,3,3,3,3,3,3,3,3,3,3,3,3,3,3,3,3,3,3,3,3,3,3,3,3,3],
[10,10,10,10,9,9,10,9,9,9,9,8,8,8,9,9,9,9,9,8,8,8,8,8,9,9,9,9,9,9,8,8,9,9,9,9,9,9,9,8,8,8,9,9],
[13,13,13,13,13,13,13,13,13,13,13,12,11,11,11,11,11,11,11,11,10,11,11,11,11,11,9,9,9,9,9,8,8,8,8,8,8,7,7,7,6,6,6,5],
[13,13,13,13,13,13,13,13,12,12,12,11,11,12,13,13,13,13,12,12,11,10,11,12,13,13,4,4,4,4,4,4,3,3,4,4,4,3,3,3,3,3,3,3],
[18,18,18,17,14,16,17,16,11,10,10,9,8,10,12,9,9,11,9,9,9,9,9,10,10,10,8,8,8,8,7,9,9,9,8,8,8,7,8,13,15,10,8,8],
[3,3,3,3,2,2,2,2,2,2,2,2,2,2,2,2,2,2,2,2,2,2,2,2,2,2,2,2,2,2,2,2,2,2,2,2,2,2,2,3,2,5,5,5]];

const panels=[
{title:"a. Austrilia",ts:1.37,tx:41,ty:52,l:125,r:1314,t:113,b:518,lmax:.7,lstep:.1,rmax:.5,rstep:.05,rlab:1,d:[aAgri,aMining,aConstr,aMfg,aWholesale,aTransport,aLine],thin:aThin},
{title:"b. Canada",ts:1.26,tx:1445,ty:55,l:1529,r:2772,t:120,b:518,lmax:.7,lstep:.1,rmax:.7,rstep:.1,rlab:1,d:[bAgri,bMining,bConstr,bMfg,bWholesale,bTransport,bLine],thin:bThin},
{title:"c. France",ts:1.29,tx:45,ty:651,l:155,r:1321,t:700,b:1135,lmax:.5,lstep:.05,rmax:.45,rstep:.05,rlab:1,d:[cAgri,cMining,cConstr,cMfg,cWholesale,cTransport,cLine],thin:cThin},
{title:"d. Italy",ts:1.32,tx:1450,ty:650,l:1532,r:2754,t:702,b:1130,lmax:.6,lstep:.1,rmax:.7,rstep:.1,rlab:1,d:[dAgri,dMining,dConstr,dMfg,dWholesale,dTransport,dLine],thin:dThin},
{title:"e. Japan",ts:1.31,tx:50,ty:1266,l:134,r:1323,t:1304,b:1718,lmax:.7,lstep:.1,rmax:.4,rstep:.05,rlab:1,d:[eAgri,eMining,eConstr,eMfg,eWholesale,eTransport,eLine],thin:eThin},
{title:"f. Korea",ts:1.3,tx:1452,ty:1267,l:1535,r:2778,t:1304,b:1722,lmax:.7,lstep:.1,rmax:.5,rstep:.05,rlab:0,d:[fAgri,fMining,fConstr,fMfg,fWholesale,fTransport,fLine],thin:fThin},
{title:"g. the United Kingdom",ts:1.37,tx:38,ty:1878,l:138,r:1326,t:1930,b:2337,lmax:.6,lstep:.1,rmax:.7,rstep:.1,rlab:1,d:[gAgri,gMining,gConstr,gMfg,gWholesale,gTransport,gLine],thin:gThin},
{title:"h. the United States",ts:1.35,tx:1441,ty:1881,l:1532,r:2778,t:1930,b:2328,lmax:.6,lstep:.1,rmax:.5,rstep:.05,rlab:0,d:[hAgri,hMining,hConstr,hMfg,hWholesale,hTransport,hLine],thin:hThin}
];
const W=2819,H=2777,AX="#868686";
const svg=d3.select("body").append("svg").attr("width",W).attr("height",H);
svg.append("rect").attr("width",W).attr("height",H).attr("fill","#fff");
const bg=[[0,0,W,5,"#e8f9fc"],[0,0,27,620,"#e8f9fc"],[0,620,37,600,"#e8f9fc"],[0,1220,37,590,"#f1fcfe"],[0,1810,27,967,"#f4fdfe"]];
svg.selectAll("rect.bg").data(bg).join("rect").attr("class","bg").attr("x",d=>d[0]).attr("y",d=>d[1]).attr("width",d=>d[2]).attr("height",d=>d[3]).attr("fill",d=>d[4]);
const fmt=v=>String(+v.toFixed(2));
function stretch(sel,sx,x,anchor){sel.attr("text-anchor",anchor).attr("x",x/sx).attr("dy","0.35em").attr("transform",`scale(${sx},1)`)}
panels.forEach(p=>{
 const g=svg.append("g");
 const thin=p.thin;
 const rows=years.map((yr,i)=>{
  const [ag,mi,co,mf,wh,tr]=p.d;
  const row={year:yr};
  row[0]=ag[i];row[1]=mi[i]-ag[i];row[2]=co[i]-mi[i];
  const sum=d3.sum(thin,t=>t[i]);
  thin.forEach((t,k)=>{row[k+3]=(t[i]||0)/sum*(mf[i]-co[i])});
  row[19]=wh[i]-mf[i];row[20]=tr[i]-wh[i];
  return row;
 });
 const stack=d3.stack().keys(d3.range(21))(rows);
 const xB=d3.scaleBand().domain(years).range([p.l,p.r]);
 const xC=yr=>xB(yr)+xB.bandwidth()/2;
 const xE=d3.scaleLinear().domain([1970.5,2014.5]).range([p.l,p.r]);
 const yL=d3.scaleLinear().domain([0,p.lmax*1000]).range([p.b,p.t]);
 const yR=d3.scaleLinear().domain([0,p.rmax*1000]).range([p.b,p.t]);
 const area=d3.area().x(d=>xC(d.data.year)).y0(d=>yL(d[0])).y1(d=>yL(d[1]));
 const top=d3.line().x(d=>xC(d.data.year)).y(d=>yL(d[1]));
 g.selectAll("path.layer").data(stack).join("path").attr("class","layer").attr("d",area).attr("fill",(d,i)=>layerColors[i]);
 g.selectAll("path.sep").data(stack.slice(0,20)).join("path").attr("class","sep").attr("d",top).attr("fill","none").attr("stroke","#fff").attr("stroke-opacity",.55).attr("stroke-width",1);
 const lt=d3.range(0,Math.round(p.lmax/p.lstep)+1).map(i=>i*p.lstep*1000);
 const rt=d3.range(0,Math.round(p.rmax/p.rstep)+1).map(i=>i*p.rstep*1000);
 const axL=g.append("g").attr("transform",`translate(${p.l},0)`).call(d3.axisLeft(yL).tickValues(lt).tickSize(14).tickFormat(v=>fmt(v/1000)));
 const axR=g.append("g").attr("transform",`translate(${p.r},0)`).call(d3.axisRight(yR).tickValues(rt).tickSize(14).tickFormat(v=>p.rlab?fmt(v/1000):""));
 const axB=g.append("g").attr("transform",`translate(0,${p.b})`).call(d3.axisBottom(xE).tickValues(d3.range(0,45).map(i=>1970.5+i)).tickSize(12).tickFormat(""));
 const axY=g.append("g").attr("transform",`translate(0,${p.b})`).call(d3.axisBottom(xB).tickValues(years.filter(y=>y%2==1)).tickSize(0));
 axY.select(".domain").remove();
 [axL,axR,axB].forEach(a=>{a.selectAll(".domain").attr("stroke",AX).attr("stroke-width",3);a.selectAll("line").attr("stroke",AX).attr("stroke-width",2.5)});
 axL.selectAll("text").attr("font-size",32).call(stretch,1.22,-42,"end");
 axR.selectAll("text").attr("font-size",32).call(stretch,1.22,42,"start");
 axY.selectAll("text").attr("font-size",48).attr("text-anchor","end").attr("y",0).attr("x",0).attr("dy","0.33em").attr("transform","translate(0,24) rotate(-90) scale(0.56,1)");
 axY.selectAll("text").attr("fill","#000");axL.selectAll("text").attr("fill","#000");axR.selectAll("text").attr("fill","#000");
 const ln=p.d[6];
 g.append("path").datum(years.map((y,i)=>[y,ln[i]])).attr("fill","none").attr("stroke","#000").attr("stroke-width",3).attr("d",d3.line().x(d=>xC(d[0])).y(d=>yR(d[1])));
 const mk=g.selectAll("g.mk").data(years.map((y,i)=>[y,ln[i]])).join("g").attr("class","mk").attr("transform",d=>`translate(${xC(d[0])},${yR(d[1])})`);
 mk.append("rect").attr("x",-11).attr("y",-8).attr("width",22).attr("height",16).attr("fill","#000");
 mk.append("path").attr("d","M-12,-8L12,8M-12,8L12,-8M0,-10V10").attr("stroke","#aed0dc").attr("stroke-width",2.6).attr("fill","none");
 g.append("text").attr("font-size",35).attr("font-weight","bold").attr("transform",`translate(${p.tx},${p.ty}) scale(${p.ts},1)`).text(p.title);
});
svg.append("text").attr("font-size",30).attr("font-weight","bold").attr("transform","translate(100,99) scale(1.2,1)").text("%");
svg.append("text").attr("font-size",30).attr("font-weight","bold").attr("transform","translate(2778,86) scale(1.2,1)").text("kg");
const leftY=[2446,2480,2514,2548,2582,2615,2649,2683,2717,2751];
const rightY=[2435,2471,2505,2541,2575,2611,2645,2681,2717,2751];
function legend(idx,ys,sx,tx,w,scale,dy){
 const g=svg.append("g").selectAll("g").data(idx).join("g");
 g.append("rect").attr("x",sx).attr("y",(d,i)=>ys[i]).attr("width",w).attr("height",20).attr("fill",d=>layerColors[d]);
 g.append("text").attr("font-size",27).attr("transform",(d,i)=>`translate(${tx},${ys[i]+dy}) scale(${scale},1)`).text(d=>layerNames[d]);
}
legend(legendLeft,leftY,405,490,78,1.64,21);
legend(legendRight,rightY,1600,1686,80,1.71,22);
</script></body></html>
